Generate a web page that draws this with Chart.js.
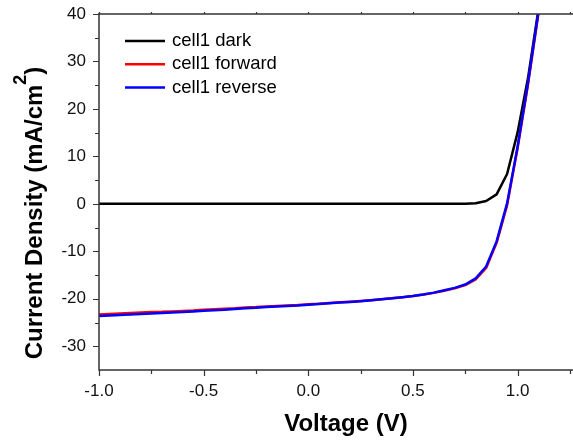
<!DOCTYPE html>
<html>
<head>
<meta charset="utf-8">
<script src="https://cdn.jsdelivr.net/npm/chart.js@4.4.1/dist/chart.umd.min.js"></script>
<style>
  html, body { margin: 0; padding: 0; background: #fff; }
  #wrap { width: 573px; height: 441px; }
</style>
</head>
<body>
<div id="wrap"><canvas id="ivPlot" width="573" height="441"></canvas></div>
<script>
// J-V curves
const voltage = [-1.0, -0.95, -0.9, -0.85, -0.8, -0.75, -0.7, -0.65, -0.6, -0.55,
  -0.5, -0.45, -0.4, -0.35, -0.3, -0.25, -0.2, -0.15, -0.1, -0.05,
  0.0, 0.05, 0.1, 0.15, 0.2, 0.25, 0.3, 0.35, 0.4, 0.45,
  0.5, 0.55, 0.6, 0.65, 0.7, 0.75, 0.8, 0.85, 0.9, 0.95,
  1.0, 1.05, 1.1];
const darkJ = [0, 0, 0, 0, 0, 0, 0, 0, 0, 0,
  0, 0, 0, 0, 0, 0, 0, 0, 0, 0,
  0, 0, 0, 0, 0, 0, 0, 0, 0, 0,
  0, 0, 0, 0, 0.02, 0.05, 0.15, 0.6, 2.0, 6.3,
  15.0, 26.5, 41.0];
const forwardJ = [-23.3, -23.2, -23.1, -23.0, -22.9, -22.8, -22.75, -22.65, -22.55, -22.45,
  -22.3, -22.2, -22.1, -22.0, -21.85, -21.75, -21.6, -21.5, -21.4, -21.3,
  -21.15, -21.05, -20.9, -20.75, -20.6, -20.45, -20.3, -20.1, -19.9, -19.65,
  -19.4, -19.1, -18.75, -18.3, -17.8, -17.1, -15.9, -13.5, -8.2, -0.3,
  11.7, 25.2, 40.2];
const reverseJ = [-23.6, -23.5, -23.4, -23.3, -23.2, -23.1, -23.0, -22.9, -22.8, -22.65,
  -22.5, -22.4, -22.3, -22.15, -22.0, -21.9, -21.75, -21.6, -21.5, -21.4,
  -21.25, -21.1, -20.95, -20.8, -20.65, -20.5, -20.3, -20.1, -19.9, -19.65,
  -19.4, -19.1, -18.7, -18.2, -17.7, -17.0, -15.7, -13.2, -7.9, 0.1,
  12.0, 25.5, 40.5];

const seriesNames = ['cell1 dark', 'cell1 forward', 'cell1 reverse'];
const seriesColors = ['#000000', '#ff0000', '#0000ff'];

const xMajor = [-1.0, -0.5, 0.0, 0.5, 1.0];
const xMinor = [-0.75, -0.25, 0.25, 0.75, 1.25];
const yMajor = [-30, -20, -10, 0, 10, 20, 30, 40];
const yMinor = [-25, -15, -5, 5, 15, 25, 35];

const FONT = "'Liberation Sans', Arial, sans-serif";
const AXIS = '#333333';

function pts(ys) {
  return voltage.map((v, i) => ({ x: v, y: ys[i] }));
}

// frame, tick marks, titles and legend drawn by hand
const framePlugin = {
  id: 'frame',
  afterDraw(chart) {
    const c = chart.ctx;
    const a = chart.chartArea;
    const xs = chart.scales.x, ys = chart.scales.y;
    c.save();
    c.strokeStyle = AXIS;
    c.lineWidth = 1.5;
    c.beginPath();
    c.moveTo(a.left, a.top - 1); c.lineTo(a.left, a.bottom);
    c.lineTo(a.right, a.bottom);
    c.moveTo(a.left, a.top); c.lineTo(a.right, a.top);
    c.stroke();

    c.lineWidth = 1.2;
    c.beginPath();
    xMajor.forEach(v => {
      const p = Math.round(xs.getPixelForValue(v)) + 0.5;
      c.moveTo(p, a.bottom); c.lineTo(p, a.bottom + 6);
      c.moveTo(p, a.top); c.lineTo(p, a.top - 2);
    });
    xMinor.forEach(v => {
      const p = Math.round(xs.getPixelForValue(v)) + 0.5;
      c.moveTo(p, a.bottom); c.lineTo(p, a.bottom + 4);
      c.moveTo(p, a.top); c.lineTo(p, a.top - 2);
    });
    yMajor.forEach(v => {
      const p = Math.round(ys.getPixelForValue(v)) + 0.5;
      c.moveTo(a.left, p); c.lineTo(a.left - 6, p);
    });
    yMinor.forEach(v => {
      const p = Math.round(ys.getPixelForValue(v)) + 0.5;
      c.moveTo(a.left, p); c.lineTo(a.left - 4, p);
    });
    c.stroke();

    // x title
    c.fillStyle = '#000';
    c.font = 'bold 24px ' + FONT;
    c.textAlign = 'center';
    c.textBaseline = 'middle';
    c.fillText('Voltage (V)', 346, 424);

    // y title with superscript
    c.translate(33, 213);
    c.rotate(-Math.PI / 2);
    c.textAlign = 'left';
    c.textBaseline = 'alphabetic';
    const mainFont = 'bold 24px ' + FONT;
    const supFont = 'bold 18px ' + FONT;
    const p1 = 'Current Density (mA/cm', p2 = '2', p3 = ')';
    c.font = mainFont;
    const w1 = c.measureText(p1).width, w3 = c.measureText(p3).width;
    c.font = supFont;
    const w2 = c.measureText(p2).width;
    const x0 = -(w1 + w2 + w3) / 2;
    c.font = mainFont;
    c.fillText(p1, x0, 9);
    c.font = supFont;
    c.fillText(p2, x0 + w1, -7);
    c.font = mainFont;
    c.fillText(p3, x0 + w1 + w2, 9);
    c.restore();

    // legend
    c.save();
    c.font = '18.5px ' + FONT;
    c.textBaseline = 'middle';
    c.textAlign = 'left';
    chart.data.datasets.forEach((ds, i) => {
      const y = 41 + i * 23.3;
      c.strokeStyle = ds.borderColor;
      c.lineWidth = 2.5;
      c.beginPath();
      c.moveTo(125, y); c.lineTo(165, y);
      c.stroke();
      c.fillStyle = '#000';
      c.fillText(ds.label, 172, y);
    });
    c.restore();
  }
};

new Chart(document.getElementById('ivPlot'), {
  type: 'line',
  data: {
    datasets: [
      { label: seriesNames[0], data: pts(darkJ), borderColor: seriesColors[0], order: 2 },
      { label: seriesNames[1], data: pts(forwardJ), borderColor: seriesColors[1], order: 1 },
      { label: seriesNames[2], data: pts(reverseJ), borderColor: seriesColors[2], order: 0 }
    ]
  },
  options: {
    responsive: false,
    animation: false,
    devicePixelRatio: 1,
    layout: { padding: { left: 0, top: 14, right: 0, bottom: 0 } },
    elements: {
      line: { borderWidth: 2.5, tension: 0, fill: false, borderJoinStyle: 'round' },
      point: { radius: 0 }
    },
    plugins: {
      legend: { display: false },
      tooltip: { enabled: false }
    },
    scales: {
      x: {
        type: 'linear',
        min: -1.0,
        max: 1.265,
        afterFit: s => { s.height = 71; s.paddingLeft = 0; s.paddingRight = 0; },
        afterBuildTicks: s => { s.ticks = xMajor.map(v => ({ value: v })); },
        grid: { display: false, drawTicks: false },
        border: { display: false },
        ticks: {
          padding: 11,
          color: '#111',
          font: { family: FONT, size: 17 },
          maxRotation: 0,
          callback: v => v.toFixed(1)
        }
      },
      y: {
        type: 'linear',
        min: -35,
        max: 40,
        afterFit: s => { s.width = 99; s.paddingTop = 0; s.paddingBottom = 0; },
        afterBuildTicks: s => { s.ticks = yMajor.map(v => ({ value: v })); },
        grid: { display: false, drawTicks: false },
        border: { display: false },
        ticks: {
          padding: 13,
          color: '#111',
          font: { family: FONT, size: 17 },
          callback: v => String(v)
        }
      }
    }
  },
  plugins: [framePlugin]
});
</script>
</body>
</html>
